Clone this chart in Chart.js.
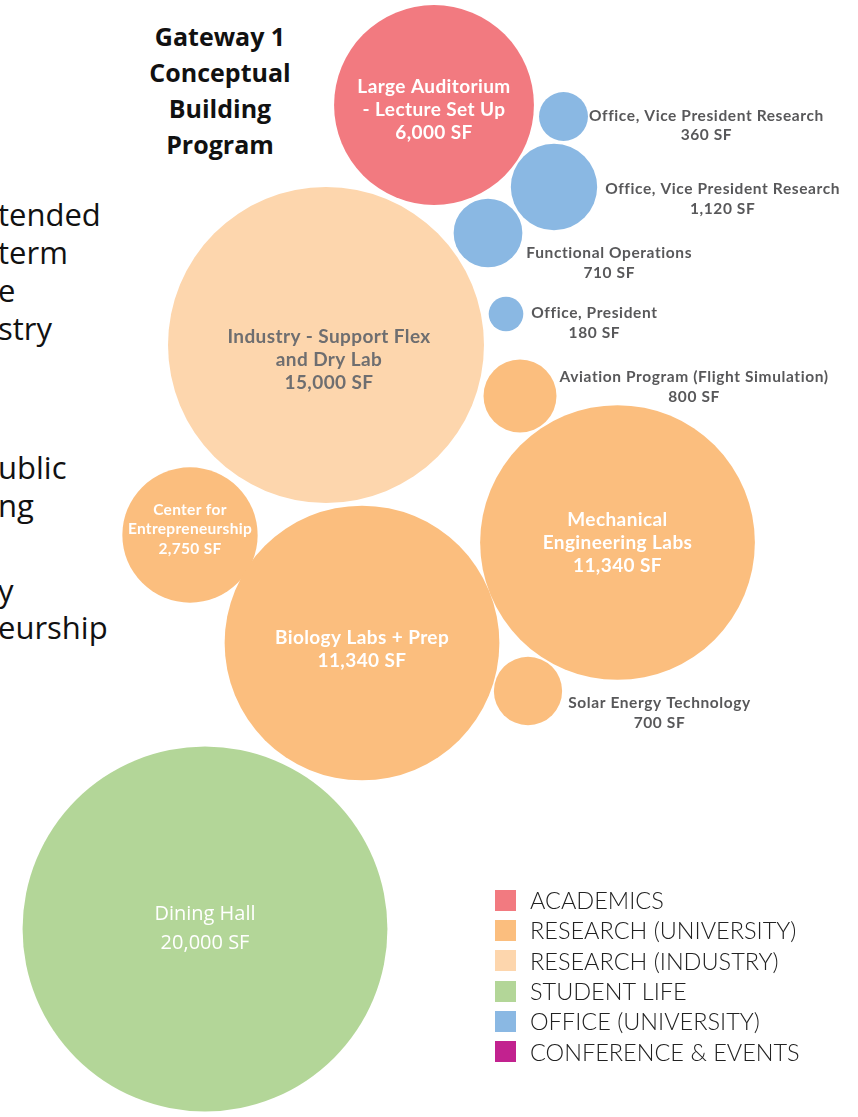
<!DOCTYPE html>
<html lang="en">
<head>
<meta charset="UTF-8">
<title>Gateway 1 Conceptual Building Program</title>
<script src="https://cdn.jsdelivr.net/npm/chart.js@4.4.1/dist/chart.umd.min.js"></script>
<style>
  body { margin: 0; background: #fff; width: 858px; height: 1117px; overflow: hidden; position: relative; font-family: "Open Sans", sans-serif; }
  #bubbles { position: absolute; left: 0; top: 0; }
  .intro { position: absolute; left: -2px; font-size: 31px; line-height: 40px; color: #111; white-space: nowrap; }
  #title { position: absolute; left: 120px; width: 200px; top: 18px; text-align: center; font-weight: 700; font-size: 25px; line-height: 36px; color: #111; }
  #legend { position: absolute; left: 495px; top: 885px; font-family: Lato, sans-serif; font-weight: 300; font-size: 23.5px; color: #222; }
  #legend .row { height: 30.3px; display: flex; align-items: center; }
  #legend .sw { width: 21px; height: 21px; margin-right: 14px; }
</style>
</head>
<body>

<div id="title">Gateway 1<br>Conceptual<br>Building<br>Program</div>

<!-- body text from the slide, clipped by the left edge -->
<div class="intro" style="top:194px">tended</div>
<div class="intro" style="top:232px">term</div>
<div class="intro" style="top:270px">e</div>
<div class="intro" style="top:308px">stry</div>
<div class="intro" style="top:447px">ublic</div>
<div class="intro" style="top:485px">ng</div>
<div class="intro" style="top:570px">y</div>
<div class="intro" style="top:607px">eurship</div>

<canvas id="bubbles" width="858" height="1117"></canvas>
<div id="legend"></div>

<script>
// program categories and their colours
const categories = ['ACADEMICS', 'RESEARCH (UNIVERSITY)', 'RESEARCH (INDUSTRY)', 'STUDENT LIFE', 'OFFICE (UNIVERSITY)', 'CONFERENCE & EVENTS'];
const categoryColors = ['#f27a80', '#fbbe7e', '#fdd6ad', '#b3d698', '#8ab8e3', '#c2228f'];

// spaces in the building program
const spaceNames = [
  'Large Auditorium\n- Lecture Set Up',
  'Office, Vice President Research',
  'Office, Vice President Research',
  'Functional Operations',
  'Office, President',
  'Industry - Support Flex\nand Dry Lab',
  'Aviation Program (Flight Simulation)',
  'Mechanical\nEngineering Labs',
  'Center for\nEntrepreneurship',
  'Biology Labs + Prep',
  'Solar Energy Technology',
  'Dining Hall'
];
const spaceSF = [6000, 360, 1120, 710, 180, 15000, 800, 11340, 2750, 11340, 700, 20000];
const spaceCategory = [0, 4, 4, 4, 4, 2, 1, 1, 1, 1, 1, 3];

// packed layout (page units)
const packX = [434, 563.5, 554, 488, 506, 326, 520, 617.5, 190, 362, 528, 205];
const packY = [105, 116.5, 187, 233, 314, 345, 396, 542.5, 535, 643, 691, 929];

const R_PER_ROOT_SF = 1.29; // bubble area proportional to square footage

const datasets = categories.map((cat, c) => ({
  label: cat,
  backgroundColor: categoryColors[c],
  borderWidth: 0,
  hoverBorderWidth: 0,
  hoverRadius: 0,
  clip: false,
  data: spaceSF.map((sf, i) => ({
    x: packX[i], y: packY[i], r: R_PER_ROOT_SF * Math.sqrt(sf),
    name: spaceNames[i], sf: sf, idx: i
  })).filter(d => spaceCategory[d.idx] === c)
}));

// labels: inside big bubbles, to the right of small ones
const bubbleLabels = {
  id: 'bubbleLabels',
  afterDatasetsDraw(chart, args, opts) {
    const ctx = chart.ctx;
    ctx.save();
    ctx.textBaseline = 'middle';
    ctx.textAlign = 'center';
    chart.data.datasets.forEach((ds, di) => {
      const meta = chart.getDatasetMeta(di);
      meta.data.forEach((el, k) => {
        const d = ds.data[k];
        const lines = d.name.split('\n').concat(d.sf.toLocaleString('en-US') + ' SF');
        const cx = el.x, cy = el.y, r = d.r;
        if (r > 50) {
          let font = 'bold 19px Lato', lh = 23, color = '#fff', spacing = '0.4px';
          if (r < 80) { font = 'bold 15.5px Lato'; lh = 19.5; spacing = '0.3px'; }
          if (ds.label === 'STUDENT LIFE') { font = '20px "Open Sans"'; lh = 29; spacing = '0px'; }
          if (ds.label === 'RESEARCH (INDUSTRY)') color = '#6e6e70';
          const nudge = opts.inside[d.idx] || [0, 0];
          ctx.font = font;
          ctx.letterSpacing = spacing;
          ctx.fillStyle = color;
          lines.forEach((t, j) => {
            ctx.fillText(t, cx + nudge[0], cy + nudge[1] + (j - (lines.length - 1) / 2) * lh);
          });
        } else {
          const nudge = opts.outside[d.idx] || [6, 0];
          ctx.font = 'bold 15.5px Lato';
          ctx.letterSpacing = '0.6px';
          ctx.fillStyle = '#58585a';
          const w = ctx.measureText(lines[0]).width;
          const tx = cx + r + nudge[0] + w / 2;
          lines.forEach((t, j) => {
            ctx.fillText(t, tx, cy + nudge[1] + j * 19.5);
          });
        }
      });
    });
    ctx.restore();
  }
};

const chart = new Chart(document.getElementById('bubbles'), {
  type: 'bubble',
  data: { datasets },
  options: {
    responsive: false,
    animation: false,
    events: [],
    layout: { padding: 0, autoPadding: false },
    scales: {
      x: { type: 'linear', min: 0, max: 858, display: false },
      y: { type: 'linear', min: 0, max: 1117, reverse: true, display: false }
    },
    plugins: {
      legend: { display: false },
      tooltip: { enabled: false },
      bubbleLabels: {
        inside: { 0: [0, 5], 5: [3, 15], 8: [0, -6], 9: [0, 6] },
        outside: { 1: [1, -1], 2: [8, 2], 3: [4, 20], 4: [8, -1], 6: [3, -19], 10: [6, 12] }
      }
    }
  },
  plugins: [bubbleLabels]
});

// legend built from the chart's datasets
const legendEl = document.getElementById('legend');
chart.data.datasets.forEach(ds => {
  const row = document.createElement('div');
  row.className = 'row';
  row.innerHTML = '<span class="sw" style="background:' + ds.backgroundColor + '"></span>' + ds.label.replace('&', '&amp;');
  legendEl.appendChild(row);
});
</script>
</body>
</html>
